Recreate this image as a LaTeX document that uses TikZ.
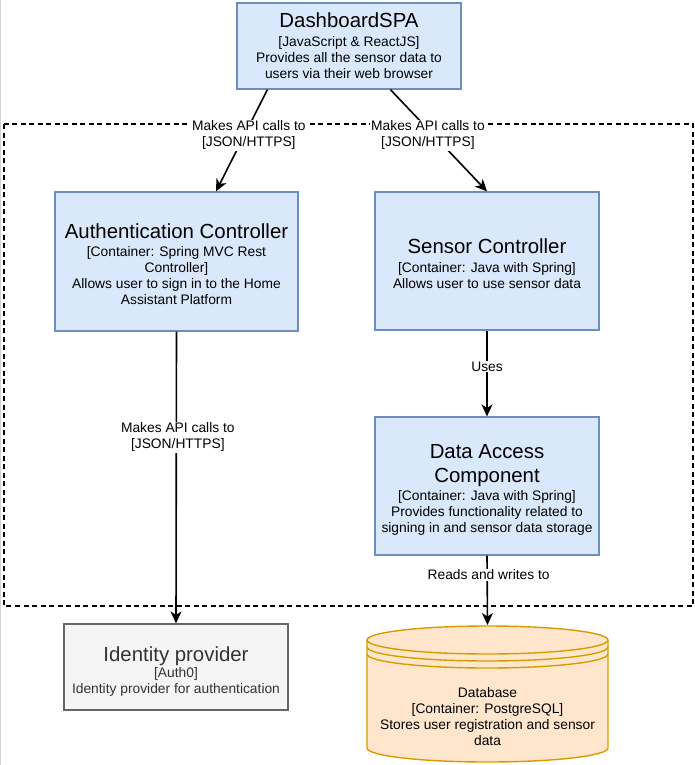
\documentclass[tikz,border=0pt]{standalone}
\usepackage{fontspec}
\setmainfont{Liberation Sans}
\usetikzlibrary{arrows.meta}
\definecolor{bfill}{HTML}{DAE8FC}
\definecolor{bline}{HTML}{6C8EBF}
\definecolor{gfill}{HTML}{F5F5F5}
\definecolor{gline}{HTML}{666666}
\definecolor{gtext}{HTML}{333333}
\definecolor{ofill}{HTML}{FFE6CC}
\definecolor{oline}{HTML}{D79B00}
\newcommand\ttlf{\fontsize{20.4}{24}\selectfont}
\newcommand\bdyf{\fontsize{13.8}{16}\selectfont}
\newcommand\topstrut[1]{\rule{0pt}{#1}}
\begin{document}
\begin{tikzpicture}[x=1pt,y=-1pt,
  bluebox/.style={draw=bline,fill=bfill,line width=1.2pt,inner sep=0pt,align=center,font=\bdyf},
  graybox/.style={draw=gline,fill=gfill,line width=1.2pt,inner sep=0pt,align=center,font=\bdyf,text=gtext},
  conn/.style={line width=1.6pt,-{Stealth[length=12pt,width=11pt,inset=3.5pt]}},
  lbl/.style={fill=white,inner sep=1pt,align=center,font=\bdyf,text=black},
  boundary/.style={line width=1.3pt,dash pattern=on 5pt off 3.5pt},
  dbshape/.style={draw=oline,fill=ofill,line width=1.4pt}]
\useasboundingbox (0,0) rectangle (695,765);
\draw[gray!35,line width=1pt] (0.5,0) -- (0.5,765);
% system boundary
\draw[boundary] (4,124) rectangle (693,606);
% nodes
\node[bluebox,minimum width=224,minimum height=86] (spa) at (349,46)
  {{\ttlf DashboardSPA}\\[3pt]{[JavaScript \& ReactJS]}\\Provides all the sensor data to\\users via their web browser};
\node[bluebox,minimum width=243,minimum height=139] (auth) at (176.5,261.5)
  {{\ttlf\topstrut{21pt}Authentication Controller}\\[2pt]{[Container: Spring MVC Rest}\\{Controller]}\\Allows user to sign in to the Home\\Assistant Platform};
\node[bluebox,minimum width=224,minimum height=138] (sensor) at (487,261)
  {{\ttlf\topstrut{20pt}Sensor Controller}\\[3pt]{[Container: Java with Spring]}\\Allows user to use sensor data};
\node[bluebox,minimum width=224,minimum height=138] (dao) at (487,486)
  {{\ttlf\topstrut{21.5pt}Data Access}\\[8pt]{\ttlf Component}\\[2pt]{[Container: Java with Spring]}\\Provides functionality related to\\signing in and sensor data storage};
\node[graybox,minimum width=224,minimum height=86] (idp) at (176,667)
  {{\ttlf\topstrut{23.5pt}Identity provider}\\[0pt]{[Auth0]}\\Identity provider for authentication};
% database cylinder
\draw[dbshape] (367,640) arc[start angle=180,end angle=360,x radius=120.5,y radius=14]
  -- (608,748) arc[start angle=0,end angle=180,x radius=120.5,y radius=14] -- cycle;
\draw[draw=oline,line width=1.4pt] (367,640) arc[start angle=180,end angle=0,x radius=120.5,y radius=14];
\draw[draw=oline,line width=1.4pt] (367,647) arc[start angle=180,end angle=0,x radius=120.5,y radius=14];
\draw[draw=oline,line width=1.4pt] (367,654) arc[start angle=180,end angle=0,x radius=120.5,y radius=14];
\coordinate (dbtop) at (487.5,625);
\node[align=center,font=\bdyf,inner sep=0pt] (db) at (487.5,717)
  {Database\\{[Container: PostgreSQL]}\\Stores user registration and sensor\\data};
% connectors
\draw[conn] (spa.south west) ++(31,0) coordinate (s1) -- (auth.north -| 216,0)
  node[lbl,pos=0.43,xshift=3.5,yshift=-2] (l1) {Makes API calls to\\{[JSON/HTTPS]}};
\draw[conn] (spa.south west) ++(154,0) coordinate (s2) -- (sensor.north)
  node[lbl,pos=0.43,xshift=-4,yshift=-2] (l2) {Makes API calls to\\{[JSON/HTTPS]}};
\draw[conn] (auth.south) -- (idp.north)
  node[lbl,pos=0.357,yshift=-1.5,xshift=1.5] (l3) {Makes API calls to\\{[JSON/HTTPS]}};
\draw[conn] (sensor.south) -- (dao.north)
  node[lbl,pos=0.42] (l4) {Uses};
\draw[conn] (dao.south) -- (dbtop)
  node[lbl,pos=0.28,xshift=1.5] (l5) {Reads and writes to};
\end{tikzpicture}
\end{document}
